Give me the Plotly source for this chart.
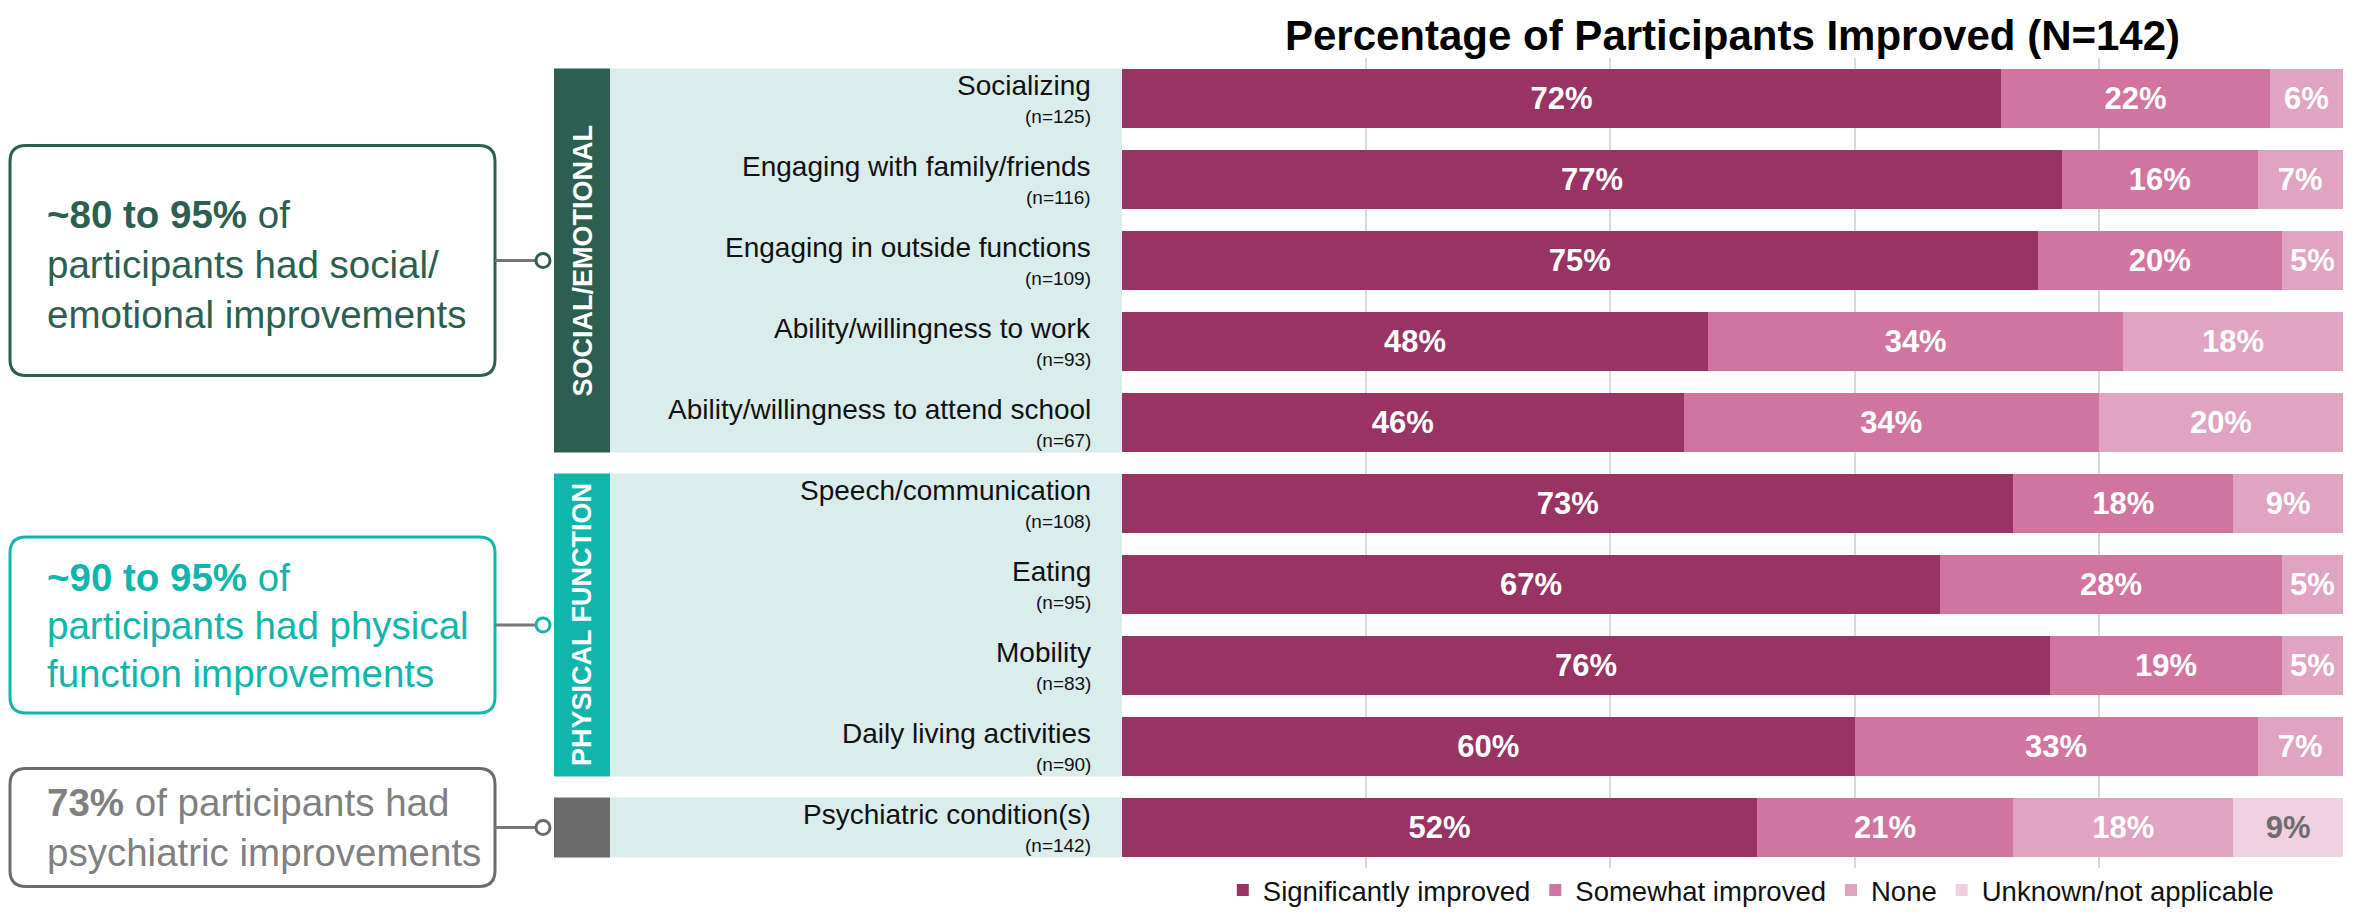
import plotly.graph_objects as go

# ---------------- data ----------------
categories = ["Socializing", "Engaging with family/friends", "Engaging in outside functions",
              "Ability/willingness to work", "Ability/willingness to attend school",
              "Speech/communication", "Eating", "Mobility", "Daily living activities",
              "Psychiatric condition(s)"]
n_values = [125, 116, 109, 93, 67, 108, 95, 83, 90, 142]
significantly = [72, 77, 75, 48, 46, 73, 67, 76, 60, 52]
somewhat = [22, 16, 20, 34, 34, 18, 28, 19, 33, 21]
none_ = [6, 7, 5, 18, 20, 9, 5, 5, 7, 18]
unknown = [0, 0, 0, 0, 0, 0, 0, 0, 0, 9]
series_names = ["Significantly improved", "Somewhat improved", "None", "Unknown/not applicable"]
group_names = ["SOCIAL/EMOTIONAL", "PHYSICAL FUNCTION", ""]
group_first = [0, 5, 9]
group_last = [4, 8, 9]
callout_bold = ["~80 to 95%", "~90 to 95%", "73%"]
callout_lines = [["{b} of", "participants had social/", "emotional improvements"],
                 ["{b} of", "participants had physical", "function improvements"],
                 ["{b} of participants had", "psychiatric improvements"]]
title_text = "Percentage of Participants Improved (N=142)"

# ---------------- styles ----------------
W, H = 2356, 915
ML, MR, MT, MB = 1122, 13, 58, 47
PW, PH = W - ML - MR, H - MT - MB
FONT = "Liberation Sans, Arial, sans-serif"
series_colors = ["#993363", "#D175A0", "#E0A3C2", "#F0D0E0"]
group_colors = ["#2C5F50", "#12B5AB", "#6B6B6B"]
text_colors = ["#2C5F50", "#12B5AB", "#808080"]
bg_color = "#DAECEB"


def px2x(px):
    return (px - ML) / PW


def px2y(py):
    return (H - MB - py) / PH


def row_center_px(i):
    return MT + (i + 0.5) * PH / len(categories)


fig = go.Figure()
series = [significantly, somewhat, none_, unknown]
for k, (name, vals) in enumerate(zip(series_names, series)):
    txt = [f"{v}%" if v > 0 else "" for v in vals]
    tcol = ["#6D6D6D" if k == 3 else "white" for _ in vals]
    fig.add_trace(go.Bar(
        y=list(range(len(categories))), x=vals, orientation="h", name=name,
        marker=dict(color=series_colors[k], line=dict(width=0)),
        text=txt, textposition="inside", insidetextanchor="middle",
        textfont=dict(family=FONT, size=31, color=tcol, weight="bold"),
        hoverinfo="skip",
    ))

half = 0.37
shapes = []
annotations = []

# group backgrounds + strips
for g, (gname, a, b) in enumerate(zip(group_names, group_first, group_last)):
    shapes.append(dict(type="rect", xref="paper", yref="y", x0=px2x(610), x1=0,
                       y0=a - half, y1=b + half, fillcolor=bg_color, line=dict(width=0), layer="below"))
    shapes.append(dict(type="rect", xref="paper", yref="y", x0=px2x(554), x1=px2x(610),
                       y0=a - half, y1=b + half, fillcolor=group_colors[g], line=dict(width=0), layer="below"))
    if gname:
        annotations.append(dict(xref="paper", yref="y", x=px2x(582), y=(a + b) / 2, text=f"<b>{gname}</b>",
                                textangle=-90, showarrow=False, xanchor="center", yanchor="middle",
                                font=dict(family=FONT, size=27, color="white")))

# callout boxes
bx0, bx1, r = 10, 495, 16
for g, (a, b) in enumerate(zip(group_first, group_last)):
    cy = (row_center_px(a) + row_center_px(b)) / 2
    hh = 115 if g == 0 else (88 if g == 1 else 59)
    y0p, y1p = cy - hh, cy + hh
    pts = [("M", bx0 + r, y0p), ("L", bx1 - r, y0p), ("Q", bx1, y0p, bx1, y0p + r),
           ("L", bx1, y1p - r), ("Q", bx1, y1p, bx1 - r, y1p), ("L", bx0 + r, y1p),
           ("Q", bx0, y1p, bx0, y1p - r), ("L", bx0, y0p + r), ("Q", bx0, y0p, bx0 + r, y0p)]
    path = ""
    for p in pts:
        cmd = p[0]
        coords = p[1:]
        segs = []
        for j in range(0, len(coords), 2):
            segs.append(f"{px2x(coords[j]):.5f},{px2y(coords[j + 1]):.5f}")
        path += cmd + " ".join(segs) + " "
    path += "Z"
    shapes.append(dict(type="path", xref="paper", yref="paper", path=path,
                       line=dict(color=group_colors[g], width=3), fillcolor="white"))
    # connector
    shapes.append(dict(type="line", xref="paper", yref="paper", x0=px2x(bx1), x1=px2x(536),
                       y0=px2y(cy), y1=px2y(cy), line=dict(color="#777777", width=3)))
    shapes.append(dict(type="circle", xref="paper", yref="paper", x0=px2x(536), x1=px2x(550),
                       y0=px2y(cy - 7), y1=px2y(cy + 7), line=dict(color=group_colors[g], width=3),
                       fillcolor="white"))
    lines = callout_lines[g]
    step = 50 if g == 0 else (48 if g == 1 else 50)
    shift = 4 if g == 0 else 0
    start = cy + shift - step * (len(lines) - 1) / 2
    for li, ln in enumerate(lines):
        t = ln.replace("{b}", f"<b>{callout_bold[g]}</b>")
        annotations.append(dict(xref="paper", yref="paper", x=px2x(45), y=px2y(start + li * step),
                                text=t, showarrow=False, xanchor="left", yanchor="middle",
                                font=dict(family=FONT, size=38.5, color=text_colors[g])))

# category labels
for i, (c, n) in enumerate(zip(categories, n_values)):
    annotations.append(dict(xref="paper", yref="y", x=px2x(1093), y=i, yshift=13, text=c,
                            showarrow=False, xanchor="right", yanchor="middle",
                            font=dict(family=FONT, size=28, color="#111111")))
    annotations.append(dict(xref="paper", yref="y", x=px2x(1093), y=i, yshift=-18, text=f"(n={n})",
                            showarrow=False, xanchor="right", yanchor="middle",
                            font=dict(family=FONT, size=19, color="#111111")))

fig.update_layout(
    width=W, height=H, margin=dict(l=ML, r=MR, t=MT, b=MB, autoexpand=False),
    paper_bgcolor="white", plot_bgcolor="white",
    barmode="stack", bargap=0.26,
    title=dict(text=f"<b>{title_text}</b>", x=0.5, xref="paper", xanchor="center",
               y=1 - 35 / H, yref="container", yanchor="middle",
               font=dict(family=FONT, size=42, color="black")),
    xaxis=dict(range=[0, 100], showticklabels=False, showgrid=True, gridcolor="#D9D9D9",
               gridwidth=1.5, dtick=20, zeroline=False, showline=False, fixedrange=True),
    yaxis=dict(range=[len(categories) - 0.5, -0.5], showticklabels=False, showgrid=False,
               zeroline=False, showline=False, fixedrange=True),
    legend=dict(orientation="h", x=0.515, xanchor="center", y=px2y(890), yanchor="middle",
                font=dict(family=FONT, size=27.5, color="#111111"), traceorder="normal",
                itemwidth=30, bgcolor="rgba(0,0,0,0)"),
    shapes=shapes, annotations=annotations, showlegend=True,
    uniformtext=dict(mode=False),
)

fig.write_html("out.html")
